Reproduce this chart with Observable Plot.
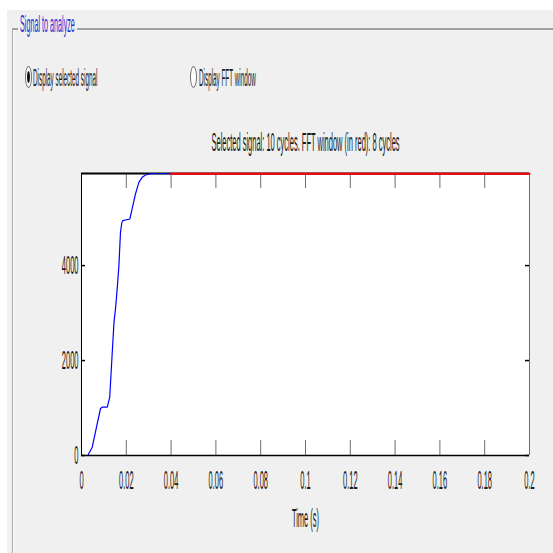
<!DOCTYPE html>
<html>
<head>
<meta charset="utf-8">
<script src="https://cdn.jsdelivr.net/npm/d3@7"></script>
<script src="https://cdn.jsdelivr.net/npm/@observablehq/plot@0.6"></script>
<style>
html,body{margin:0;padding:0;background:#fff;}
#page{position:relative;width:553px;height:553px;overflow:hidden;background:#fff;font-family:"Liberation Sans",Arial,sans-serif;color:#1a1a1a;}
#panel{position:absolute;left:7px;top:10px;right:0;bottom:0;background:#f0f0f0;}
.ln{position:absolute;background:#a0a0a0;}
.t{position:absolute;white-space:nowrap;transform-origin:0 50%;}
.radio{position:absolute;box-sizing:border-box;border:1px solid #707070;border-radius:50%;background:#fff;}
.dot{position:absolute;border-radius:50%;background:#111;}
#chart{position:absolute;left:0;top:0;}
</style>
</head>
<body>
<div id="page">
  <div id="panel"></div>
  <div class="ln" style="left:12px;top:28px;width:6px;height:2px;"></div>
  <div class="ln" style="left:77px;top:28px;right:0;height:2px;"></div>
  <div class="ln" style="left:12px;top:29px;width:1px;bottom:0;background:#a8a8a8;"></div>
  <div class="ln" style="left:13px;top:30px;width:1px;bottom:0;background:#ffffff;"></div>
  <div class="t" id="panelTitle" style="left:20px;top:12px;font-size:24px;line-height:24px;color:#2b2bcf;transform:scaleX(0.30);"></div>
  <div class="radio" style="left:25px;top:66px;width:7px;height:22px;"><div class="dot" style="left:1px;top:4px;width:3px;height:12px;"></div></div>
  <div class="t" id="radio1" style="left:33px;top:67px;font-size:23px;line-height:23px;transform:scaleX(0.275);"></div>
  <div class="radio" style="left:190px;top:66px;width:7px;height:22px;"></div>
  <div class="t" id="radio2" style="left:199px;top:67px;font-size:23px;line-height:23px;transform:scaleX(0.275);"></div>
  <div id="chart"></div>
</div>
<script>
// ---- data ----
const panelTitle = "Signal to analyze";
const radioLabels = ["Display selected signal", "Display FFT window"];
const chartTitle = "Selected signal: 10 cycles. FFT window (in red): 8 cycles";
const xLabel = "Time (s)";
const xDomain = [0, 0.2];
const yDomain = [0, 5940];
const xTicks = [0, 0.02, 0.04, 0.06, 0.08, 0.1, 0.12, 0.14, 0.16, 0.18, 0.2];
const xTickLabels = ["0", "0.02", "0.04", "0.06", "0.08", "0.1", "0.12", "0.14", "0.16", "0.18", "0.2"];
const yTicks = [0, 2000, 4000];
const yTickLabels = ["0", "2000", "4000"];
const sigT = [0, 0.0028, 0.0048, 0.007, 0.0085, 0.0092, 0.0115, 0.0126, 0.0137, 0.0145, 0.0152, 0.0160, 0.0167, 0.0174, 0.0180, 0.0184, 0.0216, 0.0226, 0.0241, 0.0256, 0.0271, 0.0286, 0.031, 0.04, 0.2];
const sigV = [0, 0, 175, 667, 990, 1017, 1017, 1228, 2147, 2800, 3100, 3550, 4000, 4700, 4900, 4947, 4982, 5193, 5509, 5754, 5860, 5909, 5935, 5935, 5935];
const fftStart = 0.04;

// ---- build ----
document.getElementById("panelTitle").textContent = panelTitle;
document.getElementById("radio1").textContent = radioLabels[0];
document.getElementById("radio2").textContent = radioLabels[1];

const signal = sigT.map((t, i) => ({t, v: sigV[i]}));
const fftWindow = signal.filter(d => d.t >= fftStart);

const W = 553, H = 553, mL = 81, mR = 24, mT = 173, mB = 98;
const innerW = W - mL - mR, innerH = H - mT - mB;
const SX = 0.30;

const svg = Plot.plot({
  width: W, height: H,
  marginLeft: mL, marginRight: mR, marginTop: mT, marginBottom: mB,
  style: {background: "transparent", fontFamily: "'Liberation Sans', Arial, sans-serif", color: "#1a1a1a", overflow: "visible"},
  x: {domain: xDomain},
  y: {domain: yDomain},
  marks: [
    Plot.frame({fill: "white", stroke: null}),
    Plot.tickX(xTicks, {x: d => d, insetTop: innerH - 15, stroke: "#6e6e6e"}),
    Plot.tickX(xTicks, {x: d => d, insetBottom: innerH - 15, stroke: "#6e6e6e"}),
    Plot.tickY(yTicks, {y: d => d, insetRight: innerW - 4, stroke: "black", strokeWidth: 1.5}),
    Plot.tickY(yTicks, {y: d => d, insetLeft: innerW - 4, stroke: "black", strokeWidth: 1.5}),
    Plot.ruleX([xDomain[1]], {stroke: "#6a6a6a"}),
    Plot.ruleY([yDomain[1]], {stroke: "black", strokeWidth: 2}),
    Plot.line(signal, {x: "t", y: "v", stroke: "#0000ff", strokeWidth: 1.2}),
    Plot.line(fftWindow, {x: "t", y: "v", stroke: "#ff0000", strokeWidth: 2.2}),
    Plot.ruleX([xDomain[0]], {stroke: "black"}),
    Plot.ruleY([yDomain[0]], {stroke: "black", strokeWidth: 1.5}),
    Plot.axisX({ticks: xTicks, tickFormat: d => xTickLabels[xTicks.indexOf(d)], tickSize: 0, tickPadding: 16, fontSize: 25, label: null}),
    Plot.axisY({ticks: yTicks, tickFormat: d => yTickLabels[yTicks.indexOf(d)], tickSize: 0, tickPadding: 3, fontSize: 25, label: null}),
    Plot.text([chartTitle], {frameAnchor: "top", lineAnchor: "middle", dy: -31, fontSize: 25}),
    Plot.text([xLabel], {frameAnchor: "bottom", lineAnchor: "middle", dy: 63, fontSize: 25})
  ]
});

svg.querySelectorAll("text").forEach(t => {
  let tr = t.getAttribute("transform") || "";
  const x = t.getAttribute("x");
  if (x !== null && !isNaN(+x)) { tr += ` translate(${x},0)`; t.removeAttribute("x"); }
  t.setAttribute("transform", tr + ` scale(${SX},1)`);
});

document.getElementById("chart").appendChild(svg);
</script>
</body>
</html>
